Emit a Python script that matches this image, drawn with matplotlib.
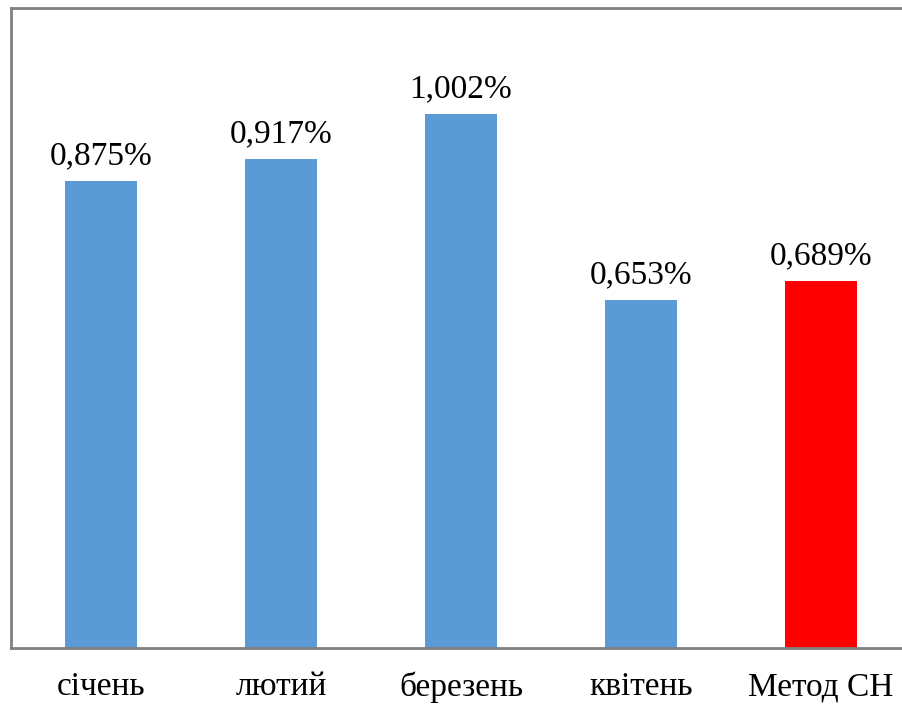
import matplotlib
matplotlib.use("Agg")
import matplotlib.pyplot as plt

categories = ["січень", "лютий", "березень", "квітень", "Метод СН"]
values = [0.875, 0.917, 1.002, 0.653, 0.689]
labels = ["0,875%", "0,917%", "1,002%", "0,653%", "0,689%"]
colors = ["#5B9BD5", "#5B9BD5", "#5B9BD5", "#5B9BD5", "#FF0000"]

plt.rcParams['font.family'] = ['Liberation Serif', 'DejaVu Serif']

W, H = 902, 704
fig = plt.figure(figsize=(W/100, H/100), dpi=100)
ax = fig.add_axes([11/W, 1-648/H, 900/W, 640/H])

x = list(range(len(categories)))
ax.bar(x, values, width=0.4, color=colors)
ax.set_xlim(-0.5, 4.5)
ax.set_ylim(0, 1.2)

for xi, v, lab in zip(x, values, labels):
    ax.annotate(lab, (xi, v), xytext=(0, 7), textcoords="offset points",
                ha="center", va="bottom", fontsize=24)

ax.set_xticks(x)
ax.set_xticklabels(categories, fontsize=24)
ax.tick_params(axis='x', length=0, pad=17)
ax.set_yticks([])
for s in ['left', 'top', 'bottom']:
    ax.spines[s].set_color('#808080')
    ax.spines[s].set_linewidth(2)
ax.spines['right'].set_visible(False)

fig.savefig("out.png", dpi=100)
